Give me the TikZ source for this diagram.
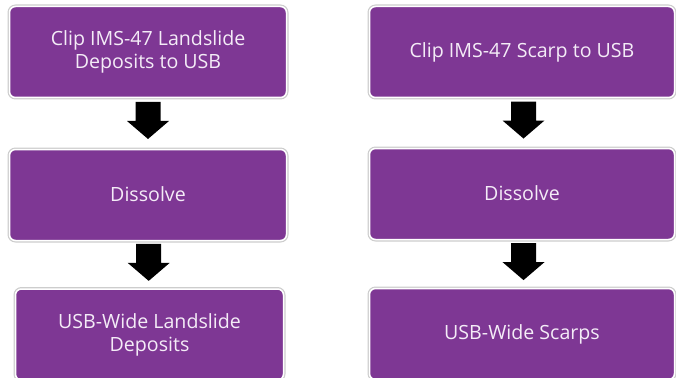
\documentclass[tikz,border=0pt]{standalone}
\usepackage{fontspec}
\setmainfont{Open Sans}
\usetikzlibrary{calc}
\definecolor{boxpurple}{RGB}{126,55,148}
\definecolor{boxtext}{RGB}{244,236,247}
\definecolor{boxrim}{RGB}{205,205,205}
\tikzset{
  stepbox/.style={
    rectangle, rounded corners=6pt, fill=boxpurple, draw=white, line width=1.5pt,
    preaction={draw=boxrim, line width=4pt},
    text=boxtext, align=center, inner sep=0pt,
    font=\fontsize{19.6}{23}\selectfont
  },
  downarrow/.pic={
    \fill[black] (-12.5,-19) -- (12.5,-19) -- (12.5,0) -- (21,0) -- (0,18)
      -- (-21,0) -- (-12.5,0) -- cycle;
  }
}
\begin{document}
\begin{tikzpicture}[x=1pt,y=-1pt]
\useasboundingbox (0,0) rectangle (676,377);
\clip (0,0) rectangle (676,377);

% left column
\node[stepbox, minimum width=277pt, minimum height=91pt] (L1) at (148,52)
  {Clip IMS-47 Landslide\\Deposits to USB};
\node[stepbox, minimum width=277pt, minimum height=91pt] (L2) at (148,195)
  {\raisebox{2.5pt}{Dissolve}};
\node[stepbox, minimum width=268pt, minimum height=91pt] (L3) at (149.5,334.5)
  {USB-Wide Landslide\\Deposits};

% right column
\node[stepbox, minimum width=305pt, minimum height=91pt] (R1) at (522,52)
  {Clip IMS-47 Scarp to USB};
\node[stepbox, minimum width=305pt, minimum height=91pt] (R2) at (522,194)
  {\raisebox{2.5pt}{Dissolve}};
\node[stepbox, minimum width=305pt, minimum height=91pt] (R3) at (522,334)
  {\raisebox{1pt}{USB-Wide Scarps}};

% block arrows between the steps
\pic at ($(L1.south)!0.45!(L2.north)$) {downarrow};
\pic at ($(L2.south)!0.46!(L3.north)$) {downarrow};
\pic at ($(R1.south)!0.45!(R2.north)+(1.5,0)$) {downarrow};
\pic at ($(R2.south)!0.46!(R3.north)+(1.5,0)$) {downarrow};
\end{tikzpicture}
\end{document}
